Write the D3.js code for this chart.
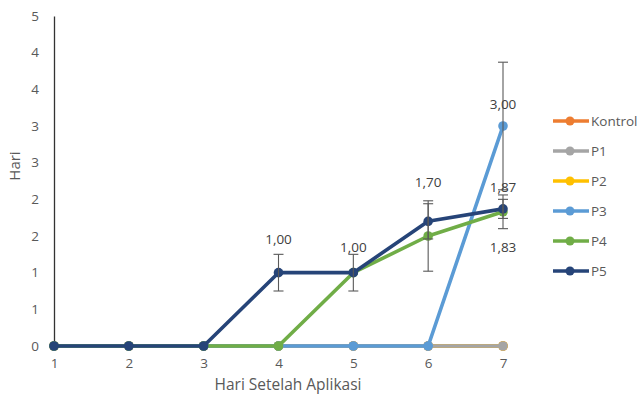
<!DOCTYPE html>
<html>
<head>
<meta charset="utf-8">
<script src="https://cdn.jsdelivr.net/npm/d3@7"></script>
<style>
  html, body { margin: 0; padding: 0; background: #fff; }
  svg { display: block; font-family: "Open Sans", "Noto Sans", sans-serif; }
</style>
</head>
<body>
<svg id="chart" width="641" height="396"></svg>
<script>
// Days after application
const days = [1, 2, 3, 4, 5, 6, 7];

// Series names and values per day
const seriesNames = ["Kontrol", "P1", "P2", "P3", "P4", "P5"];
const kontrol = [0, 0, 0, 0, 0, 0, 0];
const p1      = [0, 0, 0, 0, 0, 0, 0];
const p2      = [0, 0, 0, 0, 0, 0, 0];
const p3      = [0, 0, 0, 0, 0, 0, 3.00];
const p4      = [0, 0, 0, 0, 1.00, 1.50, 1.83];
const p5      = [0, 0, 0, 1.00, 1.00, 1.70, 1.87];

// Error bar half-widths (standard error) per day
const errKontrol = [0, 0, 0, 0, 0, 0, 0];
const errP1      = [0, 0, 0, 0, 0, 0, 0];
const errP2      = [0, 0, 0, 0, 0, 0, 0];
const errP3      = [0, 0, 0, 0, 0, 0, 0.87];
const errP4      = [0, 0, 0, 0, 0, 0.48, 0.23];
const errP5      = [0, 0, 0, 0.25, 0.25, 0.24, 0.13];

// Y-axis ticks (labels shown rounded to whole numbers)
const yTicks = [0, 0.5, 1, 1.5, 2, 2.5, 3, 3.5, 4, 4.5];

// Value labels: series index and day index
const valueLabels = [
  { s: 5, d: 3 },
  { s: 5, d: 4 },
  { s: 5, d: 5 },
  { s: 3, d: 6 },
  { s: 5, d: 6 },
  { s: 4, d: 6 }
];
// Vertical baseline offset of each value label from its point (px)
const labelOffsets = [-29, -21, -34, -17, -17, 40];

const colors = ["#ED7D31", "#A5A5A5", "#FFC000", "#5B9BD5", "#70AD47", "#264478"];
const values = [kontrol, p1, p2, p3, p4, p5];
const errors = [errKontrol, errP1, errP2, errP3, errP4, errP5];
// Drawing order: later series sit on top
const drawOrder = [0, 2, 1, 3, 4, 5];

const svg = d3.select("#chart");
const x = d3.scaleLinear().domain([1, 7]).range([54, 503]);
const y = d3.scaleLinear().domain([0, 4.5]).range([346, 16]);

// Y axis
const yAxis = svg.append("g").attr("transform", "translate(54,0)")
  .call(d3.axisLeft(y).tickValues(yTicks).tickSize(0).tickPadding(15)
    .tickFormat(v => String(Math.round(v))));
yAxis.select(".domain").attr("stroke", "#333").attr("stroke-width", 1.3);
yAxis.selectAll("text").attr("fill", "#595959").attr("font-size", 13.5)
  .attr("font-family", "'Open Sans', sans-serif");

// X axis labels (no visible axis line)
const xAxis = svg.append("g").attr("transform", "translate(0,346)")
  .call(d3.axisBottom(x).tickValues(days).tickSize(0).tickPadding(12)
    .tickFormat(d3.format("d")));
xAxis.select(".domain").remove();
xAxis.selectAll("text").attr("fill", "#595959").attr("font-size", 13.5)
  .attr("font-family", "'Open Sans', sans-serif");

// Axis titles
svg.append("text").attr("x", 288).attr("y", 390).attr("text-anchor", "middle")
  .attr("fill", "#595959").attr("font-size", 15.5).text("Hari Setelah Aplikasi");
svg.append("text").attr("transform", "translate(20,166) rotate(-90)")
  .attr("text-anchor", "middle").attr("fill", "#595959").attr("font-size", 15)
  .text("Hari");

const line = d3.line().x((v, i) => x(days[i])).y(v => y(v));

// Series lines and markers
drawOrder.forEach(s => {
  const vals = values[s];
  const g = svg.append("g");
  g.append("path").datum(vals).attr("d", line)
    .attr("fill", "none").attr("stroke", colors[s]).attr("stroke-width", 3.6)
    .attr("stroke-linejoin", "round");
  g.selectAll("circle").data(vals).join("circle")
    .attr("cx", (v, i) => x(days[i])).attr("cy", v => y(v)).attr("r", 4.8)
    .attr("fill", colors[s]);
});

// Error bars
values.forEach((vals, s) => {
  const g = svg.append("g").attr("stroke", "#595959").attr("stroke-width", 1.1);
  vals.forEach((v, i) => {
    const e = errors[s][i];
    if (!e) return;
    const cx = x(days[i]);
    g.append("line").attr("x1", cx).attr("x2", cx).attr("y1", y(v + e)).attr("y2", y(v - e));
    g.append("line").attr("x1", cx - 5).attr("x2", cx + 5).attr("y1", y(v + e)).attr("y2", y(v + e));
    g.append("line").attr("x1", cx - 5).attr("x2", cx + 5).attr("y1", y(v - e)).attr("y2", y(v - e));
  });
});

// Value labels
const fmt = v => v.toFixed(2).replace(".", ",");
valueLabels.forEach((l, k) => {
  const v = values[l.s][l.d];
  svg.append("text")
    .attr("x", x(days[l.d]))
    .attr("y", y(v) + labelOffsets[k])
    .attr("text-anchor", "middle").attr("fill", "#404040").attr("font-size", 13.5)
    .text(fmt(v));
});

// Legend
const legend = svg.append("g");
seriesNames.forEach((name, s) => {
  const ly = 121 + s * 30;
  legend.append("line").attr("x1", 553).attr("x2", 589).attr("y1", ly).attr("y2", ly)
    .attr("stroke", colors[s]).attr("stroke-width", 3.6);
  legend.append("circle").attr("cx", 570).attr("cy", ly).attr("r", 4.5).attr("fill", colors[s]);
  legend.append("text").attr("x", 591).attr("y", ly).attr("dy", "0.35em")
    .attr("fill", "#595959").attr("font-size", 13.5).text(name);
});
</script>
</body>
</html>
